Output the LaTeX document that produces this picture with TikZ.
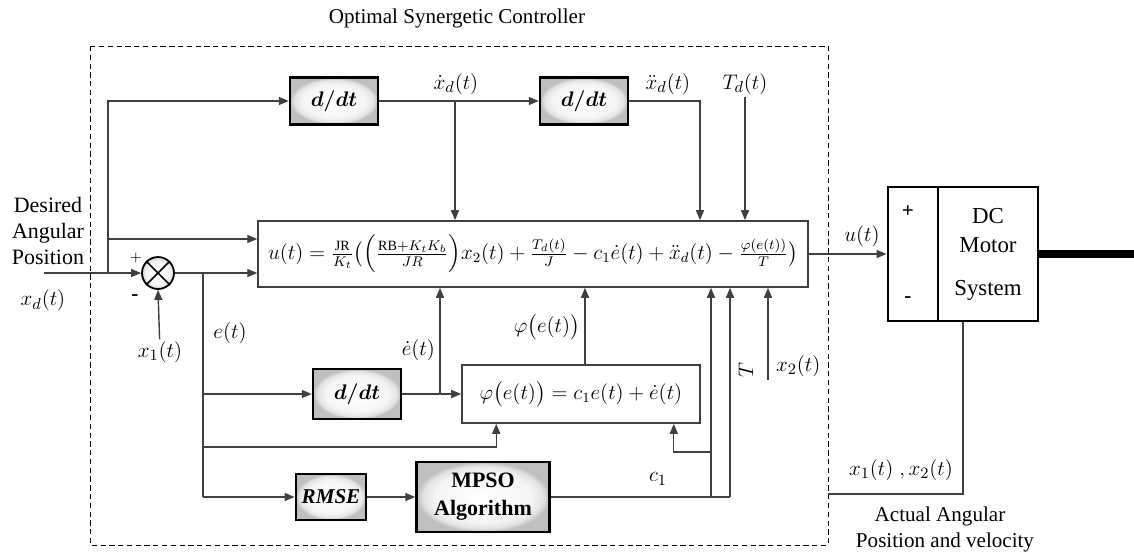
\documentclass[tikz,border=0pt]{standalone}
\usepackage{fontspec}
\setmainfont{Liberation Serif}
\usepackage{amsmath}
\usepackage{bm}
\usetikzlibrary{positioning}
\usetikzlibrary{arrows.meta}
\usetikzlibrary{calc}

\pgfdeclareradialshading{boxglow}{\pgfpoint{0cm}{0cm}}{color(0bp)=(white); color(18bp)=(gray!8); color(22.5bp)=(gray!22); color(25bp)=(gray!50); color(50bp)=(gray!50)}

\begin{document}
\begin{tikzpicture}[x=0.02cm, y=-0.02cm,
        font=\fontsize{12}{14}\selectfont,
        lbl/.style={font=\fontsize{13}{15}\selectfont, inner sep=1pt},
        sigline/.style={draw=black!75, line width=0.8pt},
        sigarrow/.style={sigline, -{Triangle[length=2mm,width=1.6mm]}},
        shadebox/.style={draw, line width=1.4pt, shading=boxglow, font=\fontsize{13}{15}\selectfont},
        lawbox/.style={draw=black!75, line width=0.9pt, fill=white, font=\fontsize{11.5}{14}\selectfont},
        motorbox/.style={draw, line width=1.6pt, minimum height=2.68cm, align=center}]
        \useasboundingbox (0,0) rectangle (1134,556);

        \draw[line width=0.5pt, dash pattern=on 3pt off 2pt] (90,46) rectangle (828,545);
        \node (title) at (457,18) {Optimal Synergetic Controller};

        \node[lawbox, minimum width=11cm, minimum height=1.32cm] (law) at (533,254)
            {$u(t)=\frac{\mathrm{JR}}{K_t}\big(\Big(\frac{\mathrm{RB}+K_tK_b}{JR}\Big)x_2(t)+\frac{T_d(t)}{J}-c_1\dot e(t)+\ddot x_d(t)-\frac{\varphi(e(t))}{T}\big)$};
        \node[shadebox, minimum width=1.76cm, minimum height=0.94cm] (ddt1) at (334,101) {$\bm{d/dt}$};
        \node[shadebox, minimum width=1.76cm, minimum height=0.94cm] (ddt2) at (584,101) {$\bm{d/dt}$};
        \node[shadebox, minimum width=1.76cm, minimum height=1.0cm] (ddt3) at (357,394) {$\bm{d/dt}$};
        \node[lawbox, minimum width=4.76cm, minimum height=1.16cm] (phi) at (581,394)
            {$\varphi\big(e(t)\big)=c_1e(t)+\dot e(t)$};
        \node[shadebox, minimum width=1.24cm, minimum height=0.92cm, font=\fontsize{12}{14}\selectfont\bfseries\itshape] (rmse) at (331,497) {RMSE};
        \node[shadebox, minimum width=2.66cm, minimum height=1.4cm, align=center, font=\fontsize{12.5}{16}\selectfont\bfseries] (mpso) at (483,497) {MPSO\\Algorithm};
        \node[circle, draw, line width=1pt, shading=boxglow, minimum size=0.64cm] (sum) at (158,273) {};
        \draw[line width=0.9pt] (sum.north west) -- (sum.south east) (sum.north east) -- (sum.south west);

        \node[motorbox, minimum width=1cm] (pm) at (913,254) {};
        \node[motorbox, minimum width=2cm, font=\fontsize{13}{16}\selectfont] (motor) at (988,254) {DC\\[1pt]Motor\\[8pt]System};
        \node at (908,212) {\textbf{+}};
        \node at (908,300) {\textbf{-}};

        % labels
        \node[align=center, font=\fontsize{12.5}{15}\selectfont] (desired) at (48,231) {Desired\\Angular\\Position};
        \node[lbl] (xdl) at (43,300) {$x_d(t)$};
        \node[lbl] (x1l) at (160,352) {$x_1(t)$};
        \node at (136,258) {\footnotesize$+$};
        \node at (135,298) {\textbf{-}};
        \node[lbl] at (230,333) {$e(t)$};
        \node[lbl, anchor=east] at (437,350) {$\dot e(t)$};
        \node[lbl, anchor=east] at (582,327) {$\varphi\big(e(t)\big)$};
        \node[lbl] at (456,84) {$\dot x_d(t)$};
        \node[lbl] at (668,84) {$\ddot x_d(t)$};
        \node[lbl] (tdl) at (745,84) {$T_d(t)$};
        \node[lbl] at (658,479) {$c_1$};
        \node[lbl, rotate=90] at (746,370) {$T$};
        \node[lbl, anchor=west] at (774,366) {$x_2(t)$};
        \node[lbl] at (862,236) {$u(t)$};
        \node[lbl] at (901,470) {$x_1(t)\;,x_2(t)$};
        \node at (940,516) {Actual Angular};
        \node at (945,542) {Position and velocity};

        % points where the signals branch
        \coordinate (xin) at (44,273);
        \coordinate (split) at (108,273);
        \coordinate (tap) at (108,239);
        \coordinate (esplit) at (203,273);
        \coordinate (eback) at (203,447);
        \coordinate (ebot) at (203,497);
        \coordinate (xdtap) at (455,101);
        \coordinate (xddcol) at (700,101);
        \coordinate (edtap) at (440,394);
        \coordinate (phicol) at (585,0);
        \coordinate (c1a) at (711,497);
        \coordinate (c1b) at (730,497);
        \coordinate (c1tap) at (711,452);
        \coordinate (x2in) at (768,380);
        \coordinate (shaft) at (1134,254);
        \coordinate (fbx) at (963,494);
        \coordinate (fbend) at (828,494);

        \draw[sigline] (xin) -- (split);
        \draw[sigarrow] (split) -- (sum.west);
        \draw[sigarrow] (split) |- (ddt1.west);
        \draw[sigarrow] (tap) -- (tap -| law.west);
        \draw[sigarrow] (sum.east) -- (sum.east -| law.west);
        \draw[sigarrow] (x1l) -- (sum.south);
        \draw[sigline] (esplit) -- (ebot);
        \draw[sigarrow] (ebot) -- (rmse.west);
        \draw[sigarrow] (esplit |- ddt3.west) -- (ddt3.west);
        \draw[sigarrow] (eback) -| ([xshift=0.7cm]phi.south west);
        \draw[sigarrow] (ddt1) -- (ddt2);
        \draw[sigarrow] (xdtap) -- (xdtap |- law.north);
        \draw[sigarrow] (ddt2.east) -- (xddcol) -- (xddcol |- law.north);
        \draw[sigarrow] (tdl) -- (tdl |- law.north);
        \draw[sigarrow] (ddt3) -- (phi);
        \draw[sigarrow] (edtap) -- (edtap |- law.south);
        \draw[sigarrow] (phi.north -| phicol) -- (law.south -| phicol);
        \draw[sigarrow] (rmse) -- (mpso);
        \draw[sigline] (mpso.east |- c1b) -- (c1b);
        \draw[sigarrow] (c1a) -- (c1a |- law.south);
        \draw[sigarrow] (c1b) -- (c1b |- law.south);
        \draw[sigarrow] (c1tap) -| ([xshift=-0.54cm]phi.south east);
        \draw[sigarrow] (x2in) -- (x2in |- law.south);
        \draw[sigarrow] (law.east) -- (pm.west);
        \draw[line width=4pt] (motor.east) -- (shaft);
        \draw[sigline] (fbx |- motor.south) -- (fbx) -- (fbend);
    \end{tikzpicture}
\end{document}
